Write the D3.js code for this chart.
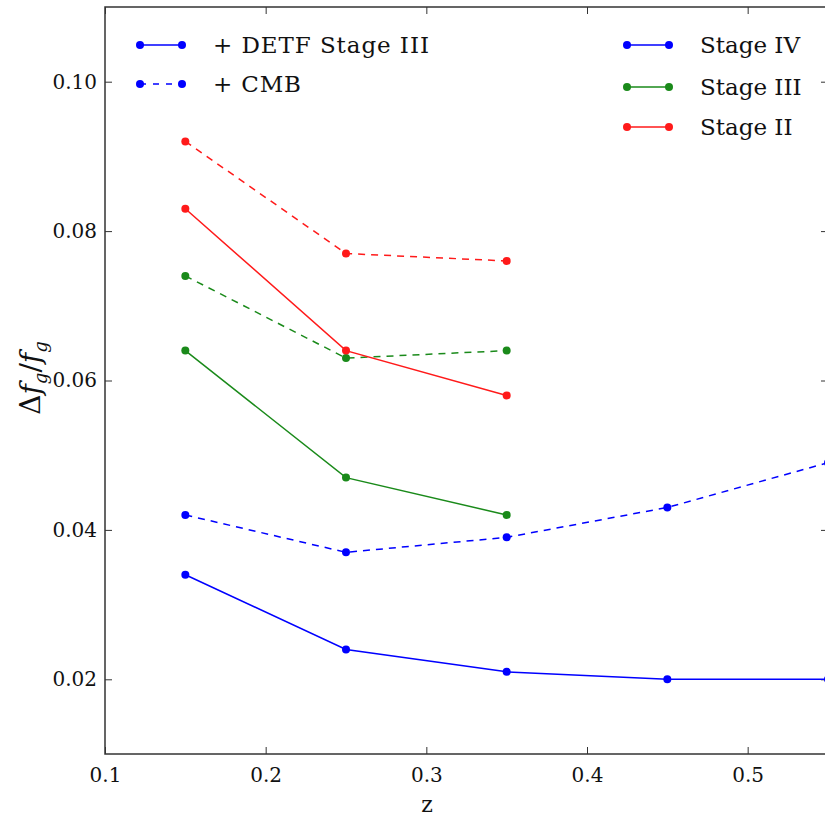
<!DOCTYPE html>
<html>
<head>
<meta charset="utf-8">
<script src="https://cdn.jsdelivr.net/npm/d3@7"></script>
<style>
  body { margin: 0; background: #fff; }
  text { font-family: "DejaVu Serif", "Liberation Serif", serif; fill: #111; }
</style>
</head>
<body>
<svg width="825" height="819"></svg>
<script>
// data
var zValues = [0.15, 0.25, 0.35, 0.45, 0.55];
var stageIV = [0.034, 0.024, 0.021, 0.020, 0.020];
var stageIVcmb = [0.042, 0.037, 0.039, 0.043, 0.049];
var stageIII = [0.064, 0.047, 0.042];
var stageIIIcmb = [0.074, 0.063, 0.064];
var stageII = [0.083, 0.064, 0.058];
var stageIIcmb = [0.092, 0.077, 0.076];
var xTicks = [0.1, 0.2, 0.3, 0.4, 0.5];
var yTicks = [0.02, 0.04, 0.06, 0.08, 0.10];

var series = [
    { vals: stageIV, color: '#0000ff', dash: null },
    { vals: stageIVcmb, color: '#0000ff', dash: '7,6' },
    { vals: stageIII, color: '#1a8a1a', dash: null },
    { vals: stageIIIcmb, color: '#1a8a1a', dash: '7,6' },
    { vals: stageII, color: '#ff1a1a', dash: null },
    { vals: stageIIcmb, color: '#ff1a1a', dash: '7,6' }
];

var svg = d3.select('svg');
var pLeft = 105, pRight = 828, pTop = 7, pBottom = 754;

var x = d3.scaleLinear().domain([0.1, 0.55]).range([pLeft, pRight]);
var y = d3.scaleLinear().domain([0.01, 0.11]).range([pBottom, pTop]);

// frame
svg.append('rect').
    attr('x', pLeft).attr('y', pTop).
    attr('width', pRight - pLeft).attr('height', pBottom - pTop).
    attr('fill', 'none').attr('stroke', '#333').attr('stroke-width', 1.5);

// axes, ticks pointing inward
svg.append('g').
    attr('transform', 'translate(0,' + pBottom + ')').
    call(d3.axisBottom(x).tickValues(xTicks).tickSizeInner(-7).tickSizeOuter(0).tickPadding(14).tickFormat(d3.format('.1f')));
svg.append('g').
    attr('transform', 'translate(' + pLeft + ',0)').
    call(d3.axisLeft(y).tickValues(yTicks).tickSizeInner(-7).tickSizeOuter(0).tickPadding(8).tickFormat(d3.format('.2f')));
svg.append('g').
    attr('transform', 'translate(' + pRight + ',0)').
    call(d3.axisRight(y).tickValues(yTicks).tickSizeInner(-7).tickSizeOuter(0).tickFormat(''));
svg.append('g').
    attr('transform', 'translate(0,' + pTop + ')').
    call(d3.axisTop(x).tickValues(xTicks).tickSizeInner(-7).tickSizeOuter(0).tickFormat(''));

svg.selectAll('.domain').attr('stroke', 'none');
svg.selectAll('.tick line').attr('stroke', '#333');
svg.selectAll('.tick text').
    attr('font-family', '"DejaVu Serif", serif').
    attr('font-size', '20px').
    attr('fill', '#111');

// axis labels
svg.append('text').
    attr('x', 427).attr('y', 812).
    attr('text-anchor', 'middle').
    attr('font-size', '22px').
    text('z');

var ylab = svg.append('text').
    attr('transform', 'translate(40,378) rotate(-90)').
    attr('text-anchor', 'middle').
    attr('font-size', '28px');
ylab.append('tspan').text('Δ');
ylab.append('tspan').attr('font-style', 'italic').text('f');
ylab.append('tspan').attr('font-style', 'italic').attr('font-size', '18px').attr('dy', 7).text('g');
ylab.append('tspan').attr('dy', -7).text('/');
ylab.append('tspan').attr('font-style', 'italic').text('f');
ylab.append('tspan').attr('font-style', 'italic').attr('font-size', '18px').attr('dy', 7).text('g');

// clip to plot area
svg.append('clipPath').attr('id', 'clip').
    append('rect').attr('x', pLeft).attr('y', pTop).attr('width', pRight - pLeft).attr('height', pBottom - pTop);

var line = d3.line().
    x(function (d, i) { return x(zValues[i]); }).
    y(function (d) { return y(d); });

var plot = svg.append('g').attr('clip-path', 'url(#clip)');
series.forEach(function (s) {
    plot.append('path').
        datum(s.vals).
        attr('d', line).
        attr('fill', 'none').
        attr('stroke', s.color).
        attr('stroke-width', 1.5).
        attr('stroke-dasharray', s.dash);
    plot.selectAll(null).
        data(s.vals).
        enter().append('circle').
        attr('cx', function (d, i) { return x(zValues[i]); }).
        attr('cy', function (d) { return y(d); }).
        attr('r', 4).
        attr('fill', s.color);
});

// legends
function legendRow(lx, ly, color, dash, label, textX, textLen) {
    svg.append('line').
        attr('x1', lx).attr('x2', lx + 42).attr('y1', ly).attr('y2', ly).
        attr('stroke', color).attr('stroke-width', 1.5).
        attr('stroke-dasharray', dash);
    [lx, lx + 42].forEach(function (cx) {
        svg.append('circle').attr('cx', cx).attr('cy', ly).attr('r', 4).attr('fill', color);
    });
    var t = svg.append('text').
        attr('x', textX).attr('y', ly + 8).
        attr('font-size', '23px').
        text(label);
    if (textLen) t.attr('textLength', textLen).attr('lengthAdjust', 'spacing');
}
legendRow(140, 45, '#0000ff', null, '+ DETF Stage III', 213, 216);
legendRow(140, 84, '#0000ff', '6,7', '+ CMB', 213, 88);
legendRow(627, 45, '#0000ff', null, 'Stage IV', 700);
legendRow(627, 87, '#1a8a1a', null, 'Stage III', 700);
legendRow(627, 127, '#ff1a1a', null, 'Stage II', 700);
</script>
</body>
</html>
